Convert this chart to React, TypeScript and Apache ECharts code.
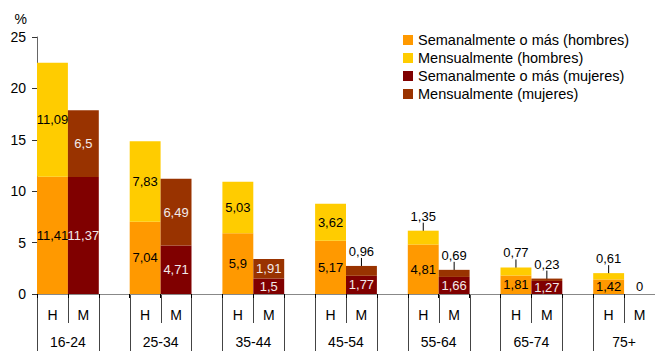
import React, { useEffect, useRef } from 'react';
import * as echarts from 'echarts';

const groups = ['16-24', '25-34', '35-44', '45-54', '55-64', '65-74', '75+'];
const sexLabels = ['H', 'M'];
const semanalHombres = [11.41, 7.04, 5.9, 5.17, 4.81, 1.81, 1.42];
const mensualHombres = [11.09, 7.83, 5.03, 3.62, 1.35, 0.77, 0.61];
const semanalMujeres = [11.37, 4.71, 1.5, 1.77, 1.66, 1.27, 0];
const mensualMujeres = [6.5, 6.49, 1.91, 0.96, 0.69, 0.23, 0];
const seriesNames = [
  'Semanalmente o más (hombres)',
  'Mensualmente (hombres)',
  'Semanalmente o más (mujeres)',
  'Mensualmente (mujeres)',
];
const seriesColors = ['#FF9900', '#FFCC00', '#800000', '#993300'];
const yMin = 0;
const yMax = 25;
const yStep = 5;

const FONT = "'Liberation Sans', Arial, sans-serif";

const slotCount = groups.length * 3 - 1;
const hSlot = (g: number) => g * 3;
const mSlot = (g: number) => g * 3 + 1;

const categories: string[] = [];
groups.forEach((_, g) => {
  categories.push(sexLabels[0], sexLabels[1]);
  if (g < groups.length - 1) categories.push('');
});

const fmt = (p: any) => String(p.value).replace('.', ',');

function buildSeries(
  name: string,
  values: number[],
  slotFn: (g: number) => number,
  color: string,
  textColor: string,
  topLayer: boolean
) {
  const data: any[] = new Array(slotCount).fill('-');
  values.forEach((v, g) => {
    const item: any = { value: v };
    if (topLayer) {
      if (v === 0) {
        item.label = { show: false };
      } else if (v < 1.5) {
        item.label = { show: true, position: 'top', distance: 8, color: '#000' };
        item.labelLine = { show: true, length2: 13, lineStyle: { color: '#000', width: 1 } };
      }
    } else if (v === 0) {
      item.label = { show: true, position: 'top', distance: 1, color: '#000' };
    }
    data[slotFn(g)] = item;
  });
  return {
    name,
    type: 'bar',
    stack: 'total',
    barWidth: '100%',
    data,
    itemStyle: { color },
    label: {
      show: true,
      position: 'inside',
      color: textColor,
      fontSize: 13,
      fontFamily: FONT,
      formatter: fmt,
    },
  };
}

export default function App() {
  const ref = useRef<HTMLDivElement>(null);

  useEffect(() => {
    if (!ref.current) return;
    const chart = echarts.init(ref.current, null, { renderer: 'svg' });
    const option: any = {
      animation: false,
      textStyle: { fontFamily: FONT },
      grid: { left: 37, top: 37, width: 620, height: 257 },
      legend: {
        data: seriesNames,
        orient: 'vertical',
        left: 403,
        top: 32,
        padding: 0,
        itemWidth: 10,
        itemHeight: 10,
        itemGap: 2,
        itemTextGap: 5,
        icon: 'rect',
        textStyle: { fontSize: 14.5, lineHeight: 16, color: '#000', fontFamily: FONT },
      },
      xAxis: {
        type: 'category',
        data: categories,
        boundaryGap: true,
        axisLine: { lineStyle: { color: '#888', width: 1 } },
        axisTick: { show: true, interval: 0, length: 4, lineStyle: { color: '#000' } },
        axisLabel: { interval: 0, margin: 14, fontSize: 14, color: '#000', fontFamily: FONT },
      },
      yAxis: {
        type: 'value',
        min: yMin,
        max: yMax,
        interval: yStep,
        name: '%',
        nameLocation: 'end',
        nameGap: 11,
        nameTextStyle: { fontSize: 14, color: '#000', align: 'right', padding: [0, 10, 0, 0], fontFamily: FONT },
        axisLine: { show: true, lineStyle: { color: '#666' } },
        axisTick: { show: true, length: 5, lineStyle: { color: '#333' } },
        splitLine: { show: false },
        axisLabel: { fontSize: 14, margin: 11, color: '#000', fontFamily: FONT },
      },
      series: [
        buildSeries(seriesNames[0], semanalHombres, hSlot, seriesColors[0], '#000', false),
        buildSeries(seriesNames[1], mensualHombres, hSlot, seriesColors[1], '#000', true),
        buildSeries(seriesNames[2], semanalMujeres, mSlot, seriesColors[2], '#f2eaea', false),
        buildSeries(seriesNames[3], mensualMujeres, mSlot, seriesColors[3], '#f2eaea', true),
      ],
    };
    chart.setOption(option);

    const px = (i: number) => chart.convertToPixel({ xAxisIndex: 0 }, i) as number;
    const band = px(1) - px(0);
    const y0 = Math.round(chart.convertToPixel({ yAxisIndex: 0 }, 0) as number);
    const elements: any[] = [];
    const vline = (x: number, len: number) => {
      const xx = Math.round(x) + 0.5;
      elements.push({
        type: 'line',
        shape: { x1: xx, y1: y0, x2: xx, y2: y0 + len },
        style: { stroke: '#444', lineWidth: 1 },
        silent: true,
      });
    };
    groups.forEach((name, g) => {
      const hc = px(hSlot(g));
      const mc = px(mSlot(g));
      vline(hc - band / 2, 60);
      vline(hc + band / 2, 29);
      vline(mc + band / 2, 60);
      elements.push({
        type: 'text',
        x: hc + band / 2,
        y: y0 + 48,
        style: {
          text: name,
          fill: '#000',
          fontSize: 14,
          fontFamily: FONT,
          align: 'center',
          verticalAlign: 'middle',
          textAlign: 'center',
          textVerticalAlign: 'middle',
        },
        silent: true,
      });
    });
    chart.setOption({ graphic: elements });

    return () => chart.dispose();
  }, []);

  return (
    <div
      ref={ref}
      style={{ position: 'absolute', left: 0, top: 0, width: 655, height: 351 }}
    />
  );
}
